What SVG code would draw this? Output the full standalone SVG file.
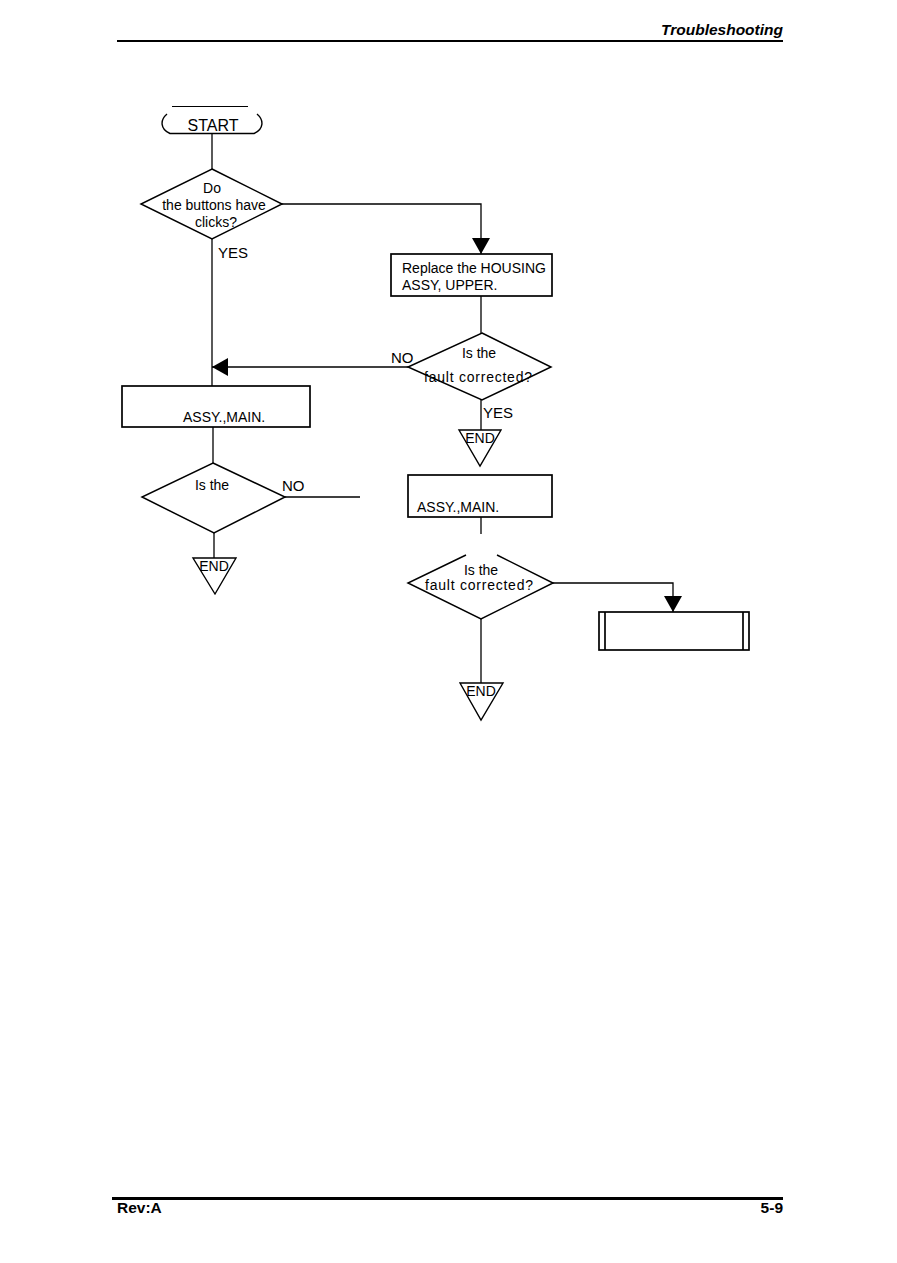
<svg xmlns="http://www.w3.org/2000/svg" width="897" height="1263" viewBox="0 0 897 1263">
<style>
text{font-family:"Liberation Sans",Arial,Helvetica,sans-serif;fill:#000}
.t{font-size:14px}
.c{text-anchor:middle}
.lb{font-size:15px}
.ln{stroke:#000;stroke-width:1.3;fill:none}
.dm{fill:#fff;stroke:#000;stroke-width:1.5}
.bx{fill:#fff;stroke:#000;stroke-width:1.7}
.en{fill:#fff;stroke:#000;stroke-width:1.4}
</style>
<defs>
<marker id="ar" markerUnits="userSpaceOnUse" markerWidth="16" markerHeight="18" refX="16" refY="9" orient="auto">
<path d="M0,0 L16,9 L0,18 Z" fill="#000"/>
</marker>
</defs>
<rect width="897" height="1263" fill="#fff"/>
<g id="header">
<text x="783" y="35" font-size="15.5" font-weight="bold" font-style="italic" text-anchor="end">Troubleshooting</text>
<line x1="117" y1="41" x2="783" y2="41" stroke="#000" stroke-width="2"/>
</g>
<g id="footer">
<line x1="112" y1="1198.5" x2="783" y2="1198.5" stroke="#000" stroke-width="3"/>
<text x="117" y="1213" font-size="15.5" font-weight="bold">Rev:A</text>
<text x="783" y="1213" font-size="15.5" font-weight="bold" text-anchor="end">5-9</text>
</g>
<g id="connectors">
<path class="ln" d="M212,134 V169"/>
<path class="ln" d="M282,204 H481 V254" marker-end="url(#ar)"/>
<path class="ln" d="M481,296 V333"/>
<path class="ln" d="M408,367 H212" marker-end="url(#ar)"/>
<path class="ln" d="M212,239 V386"/>
<path class="ln" d="M213,427 V463"/>
<path class="ln" d="M285,497 H360"/>
<path class="ln" d="M214,533 V558"/>
<path class="ln" d="M481,400 V430"/>
<path class="ln" d="M481,517 V534"/>
<path class="ln" d="M553,583 H673 V612" marker-end="url(#ar)"/>
<path class="ln" d="M481,619 V683"/>
<text class="lb" x="218" y="258">YES</text>
<text class="lb" x="391" y="363">NO</text>
<text class="lb" x="483" y="418">YES</text>
<text class="lb" x="282" y="491">NO</text>
</g>
<g id="start">
<line x1="172" y1="106.5" x2="248" y2="106.5" stroke="#000" stroke-width="1.2"/>
<path d="M167,114 C160,120 160,129 170,133.5 H254 C264,129 264,120 257,114" fill="none" stroke="#000" stroke-width="1.4"/>
<text x="213" y="131" font-size="16" class="c">START</text>
</g>
<g id="d1">
<polygon class="dm" points="212,169 282,204 212,239 141,204"/>
<text class="t c" x="212" y="193">Do</text>
<text class="t c" x="214" y="210">the buttons have</text>
<text class="t c" x="216" y="227">clicks?</text>
</g>
<g id="box1">
<rect class="bx" x="391" y="254" width="161" height="42"/>
<text class="t" x="402" y="273">Replace the HOUSING</text>
<text class="t" x="402" y="290">ASSY, UPPER.</text>
</g>
<g id="d2">
<polygon class="dm" points="482,333 551,367 482,400 408,367"/>
<text class="t c" x="479" y="358">Is the</text>
<text class="t c" x="478" y="382" textLength="108" lengthAdjust="spacing">fault corrected?</text>
</g>
<g id="end1">
<polygon class="en" points="459,430 501,430 480,466"/>
<text class="t c" x="480" y="443">END</text>
</g>
<g id="box2">
<rect class="bx" x="122" y="386" width="188" height="41"/>
<text class="t" x="183" y="422">ASSY.,MAIN.</text>
</g>
<g id="d3">
<polygon class="dm" points="213,463 285,497 214,533 142,497"/>
<text class="t c" x="212" y="490">Is the</text>
</g>
<g id="end2">
<polygon class="en" points="193,558 236,558 215,594"/>
<text class="t c" x="214" y="571">END</text>
</g>
<g id="box3">
<rect class="bx" x="408" y="475" width="144" height="42"/>
<text class="t" x="417" y="512">ASSY.,MAIN.</text>
</g>
<g id="d4">
<polygon points="466,555 553,583 481,619 408,583" fill="#fff" stroke="none"/>
<polyline class="dm" fill="none" points="466,555 408,583 481,619 553,583 497,555"/>
<text class="t c" x="481" y="575">Is the</text>
<text class="t c" x="479" y="590" textLength="108" lengthAdjust="spacing">fault corrected?</text>
</g>
<g id="box4">
<rect class="bx" x="599" y="612" width="150" height="38"/>
<line x1="605" y1="612" x2="605" y2="650" stroke="#000" stroke-width="1.7"/>
<line x1="743" y1="612" x2="743" y2="650" stroke="#000" stroke-width="1.7"/>
</g>
<g id="end3">
<polygon class="en" points="460,683 503,683 481,720"/>
<text class="t c" x="481" y="696">END</text>
</g>
</svg>
